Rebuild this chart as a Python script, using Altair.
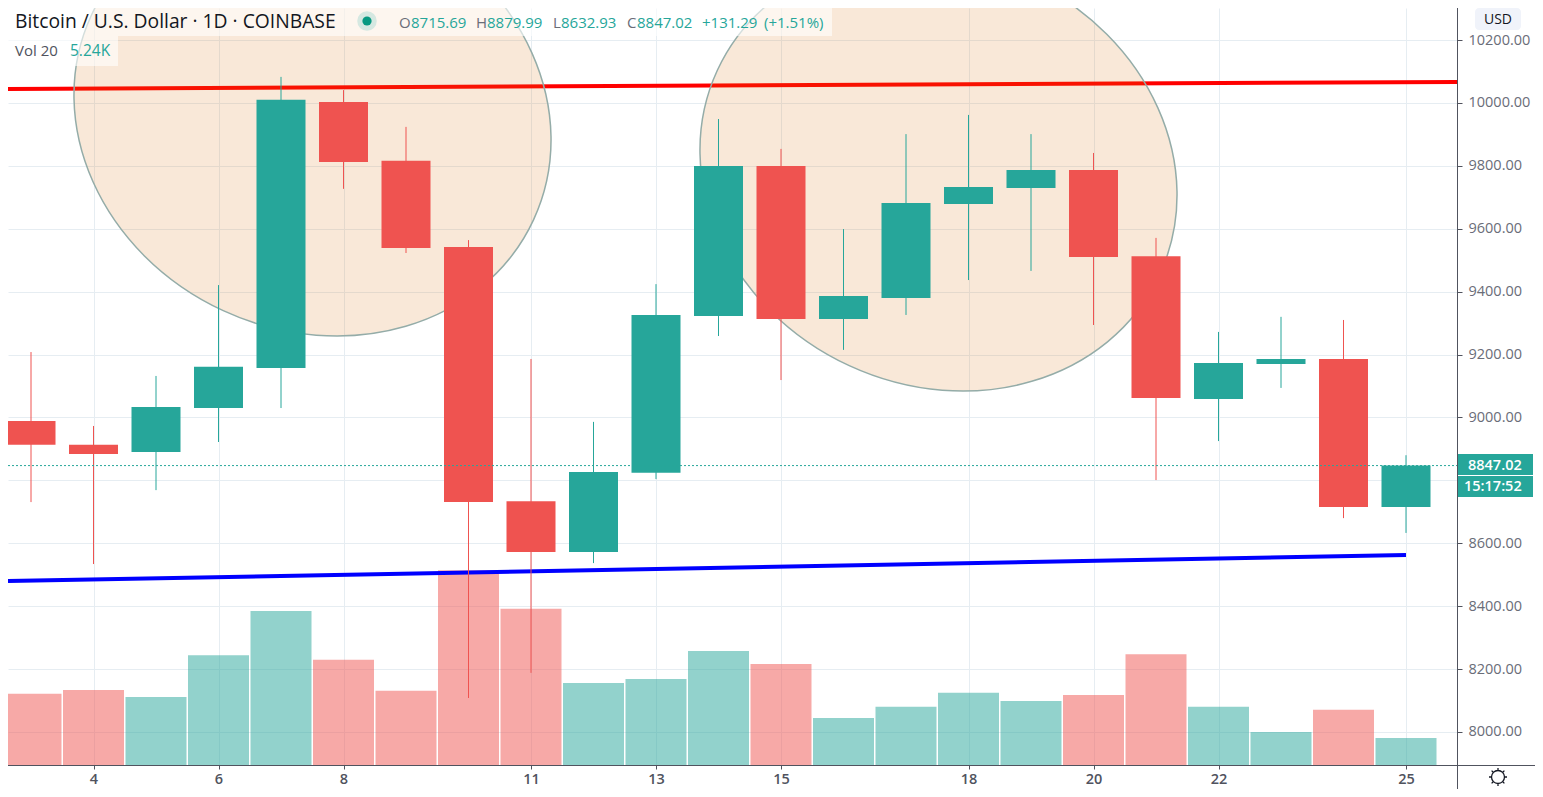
import altair as alt
import pandas as pd

# ---- data ----
days = list(range(3, 26))
opens = [8989, 8913, 8890, 9030, 9157, 10003, 9816, 9542, 8734, 8572, 8824, 9323,
         9800, 9313, 9380, 9679, 9730, 9787, 9513, 9059, 9170, 9186, 8715.69]
closes = [8913, 8884, 9033, 9161, 10010, 9812, 9539, 8731, 8572, 8827, 9326, 9800,
          9313, 9386, 9682, 9733, 9787, 9510, 9062, 9173, 9186, 8715, 8847.02]
highs = [9208, 8973, 9132, 9421, 10083, 10041, 9924, 9564, 9186, 8986, 9424, 9949,
         9854, 9599, 9901, 9962, 9901, 9841, 9571, 9272, 9320, 9310, 8879.99]
lows = [8731, 8534, 8769, 8922, 9030, 9727, 9523, 8108, 8188, 8537, 8804, 9259,
        9119, 9215, 9326, 9437, 9466, 9294, 8801, 8925, 9094, 8680, 8632.93]
volumes = [13800, 14550, 13200, 21300, 29900, 20400, 14400, 37800, 30300, 15900, 16700, 22100,
           19600, 9100, 11300, 14000, 12400, 13600, 21500, 11300, 6400, 10700, 5240]
red_line_x, red_line_y = [2.632, 25.816], [10044.6, 10066.8]
blue_line_x, blue_line_y = [2.632, 25.0], [8480, 8563]
ellipse_x, ellipse_y = [7.504, 17.52], [9954, 9779]
price_ticks = list(range(8000, 10201, 200))
day_ticks = [4, 6, 8, 11, 13, 15, 18, 20, 22, 25]
last_price = 8847.02

UP, DOWN = "#26a69a", "#ef5350"
FONT = "Open Sans"
AXC = "#50535e"
GRID = "#e6edf2"

df = pd.DataFrame(dict(day=days, o=opens, c=closes, h=highs, l=lows, v=volumes))
df["dir"] = ["up" if c >= o else "down" for o, c in zip(opens, closes)]

xs = alt.Scale(domain=[2.632, 25.816], nice=False, zero=False, padding=0)
ps = alt.Scale(domain=[7895, 10302], nice=False, zero=False)
vs = alt.Scale(domain=[0, 146858], nice=False, zero=False)
cs = alt.Scale(domain=["up", "down"], range=[UP, DOWN])

x_axis = alt.Axis(
    values=day_ticks, title=None, grid=True, gridColor=GRID, gridWidth=1, domain=False,
    tickColor=AXC, tickSize=4, labelColor=AXC, labelFont=FONT, labelFontSize=14.5,
    labelFontWeight=600, labelPadding=3, labelFlush=False, labelOverlap=False, format="d")
X = alt.X("day:Q", scale=xs, axis=x_axis)
col = alt.Color("dir:N", scale=cs, legend=None)


def px(v):
    return alt.value(v - 8)


def text(t, x, y, color, size, **kw):
    return alt.Chart(df.head(1)).mark_text(
        text=t, align=kw.pop("align", "left"), baseline="alphabetic", font=FONT,
        fontSize=size, color=color, **kw
    ).encode(x=px(x), y=px(y))


def box(x, x2, y, y2, color, **kw):
    return alt.Chart(df.head(1)).mark_rect(color=color, **kw).encode(
        x=px(x), x2=px(x2), y=px(y), y2=px(y2))


def line(xv, yv, color):
    d = pd.DataFrame(dict(day=xv, p=yv))
    return alt.Chart(d).mark_line(color=color, strokeWidth=4).encode(
        x=X, y=alt.Y("p:Q", scale=ps, axis=None))


# axes carrier
axes = alt.Chart(df.head(1)).mark_point(opacity=0).encode(
    x=X,
    y=alt.Y("o:Q", scale=ps, axis=alt.Axis(
        orient="right", values=price_ticks, title=None, grid=True, gridColor=GRID, gridWidth=1,
        domain=False, tickColor=AXC, tickSize=5, labelColor="#6a6d78", labelFont=FONT,
        labelFontSize=14.5, labelPadding=6, labelOverlap=False, labelFlush=False,
        labelExpr="datum.value == 8800 ? '' : format(datum.value, '.2f')")),
)

volume = alt.Chart(df).mark_bar(size=61, opacity=0.5).encode(
    x=X, y=alt.Y("v:Q", scale=vs, axis=None, stack=None), color=col)

ell = pd.DataFrame(dict(day=ellipse_x, p=ellipse_y))
ellipse_path = "M-243.6,0A243.6,212.8 0 1,1 243.6,0A243.6,212.8 0 1,1 -243.6,0Z"
ellipses = alt.Chart(ell).mark_point(
    shape=ellipse_path, size=4, angle=24.8, filled=False, fill="#d96f0b", fillOpacity=0.16,
    stroke="#94aca8", strokeWidth=1.5, opacity=1,
).encode(x=X, y=alt.Y("p:Q", scale=ps, axis=None))

wicks = alt.Chart(df).mark_rule(strokeWidth=1).encode(
    x=X, y=alt.Y("l:Q", scale=ps, axis=None), y2="h:Q", color=col)
bodies = alt.Chart(df).mark_bar(size=49).encode(
    x=X, y=alt.Y("o:Q", scale=ps, axis=None, stack=None), y2="c:Q", color=col)

price_line = alt.Chart(pd.DataFrame(dict(p=[last_price]))).mark_rule(
    color=UP, strokeDash=[2, 2], strokeWidth=1
).encode(x=alt.value(0), x2=alt.value(1449), y=alt.Y("p:Q", scale=ps, axis=None))

decor = [
    box(3, 832, 6, 36, "#ffffff", opacity=0.6),
    box(3, 118, 36, 66, "#ffffff", opacity=0.6),
    text("Bitcoin / U.S. Dollar · 1D · COINBASE", 15, 28, "#131722", 19.3),
    alt.Chart(df.head(1)).mark_point(filled=True, size=380, color="#d5e8e1", opacity=1).encode(x=px(367), y=px(21)),
    alt.Chart(df.head(1)).mark_point(filled=True, size=85, color="#089981", opacity=1).encode(x=px(367), y=px(21)),
    text("O", 399, 28, "#6a6d78", 15), text("8715.69", 411, 28, UP, 15),
    text("H", 476, 28, "#6a6d78", 15), text("8879.99", 487, 28, UP, 15),
    text("L", 553, 28, "#6a6d78", 15), text("8632.93", 561, 28, UP, 15),
    text("C", 627, 28, "#6a6d78", 15), text("8847.02", 637, 28, UP, 15),
    text("+131.29", 702, 28, UP, 15), text("(+1.51%)", 764, 28, UP, 15),
    text("Vol 20", 15, 56, "#50535e", 15), text("5.24K", 70, 56, UP, 15.5),
    # right scale furniture
    box(1475, 1521, 8, 30, "#f0f3fa", cornerRadius=4),
    text("USD", 1498, 24, "#131722", 14, align="center"),
    box(1457, 1533, 454, 475, UP),
    box(1457, 1533, 476, 497, UP),
    text("8847.02", 1468, 470, "#ffffff", 14.5, fontWeight=600),
    text("15:17:52", 1464, 491, "#ffffff", 14.5, fontWeight=600),
    alt.Chart(df.head(1)).mark_rule(color=AXC, strokeWidth=1).encode(
        x=alt.value(1449.5), y=alt.value(-8), y2=alt.value(785)),
    alt.Chart(df.head(1)).mark_rule(color=AXC, strokeWidth=1).encode(
        x=alt.value(-8), x2=alt.value(1531), y=alt.value(757.5)),
    alt.Chart(df.head(1)).mark_point(
        shape="M-6.5,0A6.5,6.5 0 1,1 6.5,0A6.5,6.5 0 1,1 -6.5,0Z"
              "M0,-9L0,-7M0,7L0,9M-9,0L-7,0M7,0L9,0"
              "M-6.4,-6.4L-5,-5M5,5L6.4,6.4M-6.4,6.4L-5,5M5,-5L6.4,-6.4",
        size=4, filled=False, stroke="#131722", strokeWidth=1.3, opacity=1,
    ).encode(x=px(1498), y=px(777)),
]

chart = alt.layer(
    axes, volume, line(red_line_x, red_line_y, "#ff0000"), line(blue_line_x, blue_line_y, "#0000ff"),
    ellipses, wicks, bodies, price_line, *decor
).resolve_scale(y="independent").properties(
    width=1449, height=757,
    padding={"left": 0, "top": 0, "right": 78, "bottom": 24},
    autosize=alt.AutoSizeParams(type="none"),
    background="#ffffff",
).configure_view(stroke=None)

chart.save("out.html", embed_options={"renderer": "svg", "actions": False})
